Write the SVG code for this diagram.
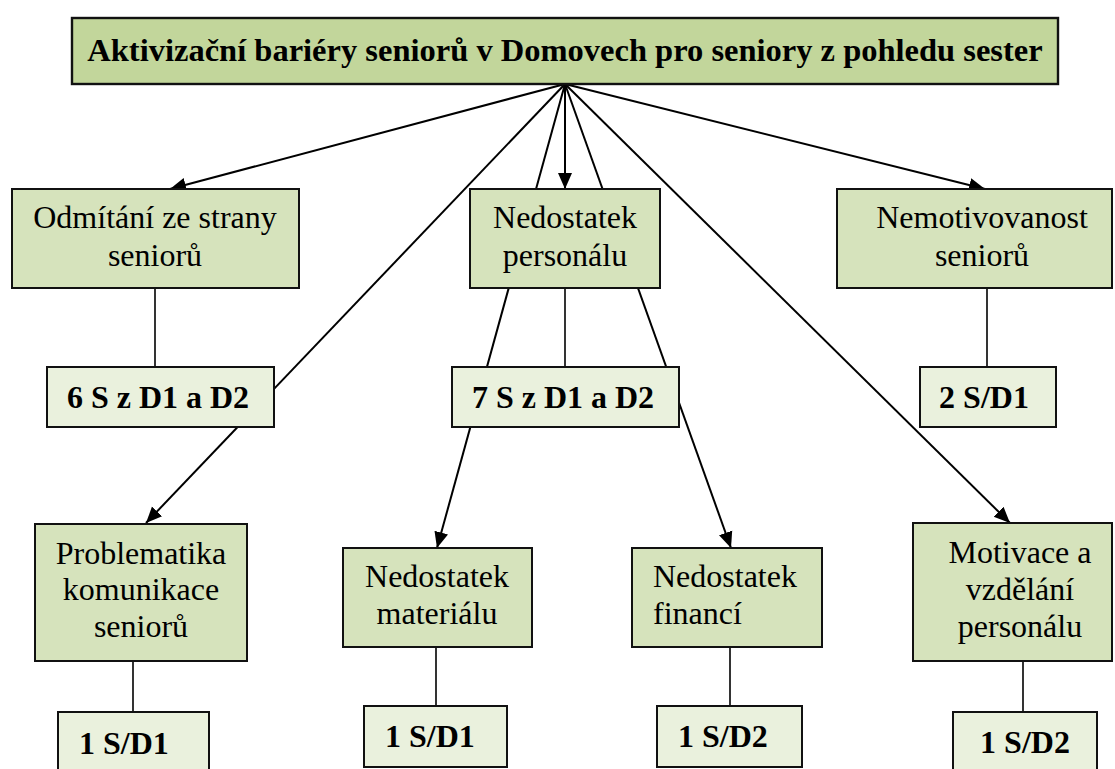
<svg xmlns="http://www.w3.org/2000/svg" width="1115" height="769" viewBox="0 0 1115 769">
  <defs>
    <marker id="arrow" markerUnits="userSpaceOnUse" markerWidth="17" markerHeight="17" viewBox="0 0 17 17" refX="16" refY="8.5" orient="auto">
      <path d="M0,1.5 L16,8.5 L0,15.5 Z" fill="#000"/>
    </marker>
    <style>
      .title { fill: #c2d69b; stroke: #111; stroke-width: 2.4; }
      .cat { fill: #d6e3bc; stroke: #111; stroke-width: 2; }
      .count { fill: #eaf1dd; stroke: #111; stroke-width: 2; }
      .edge { stroke: #000; stroke-width: 2; fill: none; }
      .stem { stroke: #000; stroke-width: 1.6; fill: none; }
      text { font-family: "Liberation Serif", "Times New Roman", serif; fill: #000; }
      .t-title { font-size: 32.5px; font-weight: bold; text-anchor: middle; }
      .t-cat { font-size: 32px; text-anchor: middle; }
      .t-left { font-size: 32px; }
      .t-count { font-size: 32px; font-weight: bold; }
      .mid { text-anchor: middle; }
    </style>
  </defs>
  <rect width="1115" height="769" fill="#fff"/>

  <!-- connectors: drawn first so the boxes sit on top of them -->
  <g id="connectors">
    <line class="edge" x1="565" y1="84" x2="170" y2="189" marker-end="url(#arrow)"/>
    <line class="edge" x1="565" y1="84" x2="146" y2="523" marker-end="url(#arrow)"/>
    <line class="edge" x1="565" y1="84" x2="437" y2="548" marker-end="url(#arrow)"/>
    <line class="edge" x1="565" y1="84" x2="565" y2="189" marker-end="url(#arrow)"/>
    <line class="edge" x1="565" y1="84" x2="731" y2="548" marker-end="url(#arrow)"/>
    <line class="edge" x1="565" y1="84" x2="1010" y2="523" marker-end="url(#arrow)"/>
    <line class="edge" x1="565" y1="84" x2="985" y2="189" marker-end="url(#arrow)"/>
    <line class="stem" x1="155" y1="288" x2="155" y2="367"/>
    <line class="stem" x1="565" y1="288" x2="565" y2="367"/>
    <line class="stem" x1="987" y1="288" x2="987" y2="367"/>
    <line class="stem" x1="133" y1="661" x2="133" y2="712"/>
    <line class="stem" x1="436" y1="647" x2="436" y2="706"/>
    <line class="stem" x1="730" y1="647" x2="730" y2="706"/>
    <line class="stem" x1="1023" y1="661" x2="1023" y2="712"/>
  </g>

  <g id="root">
    <rect class="title" x="72" y="18" width="986" height="66"/>
    <text class="t-title" x="565" y="61">Aktivizační bariéry seniorů v Domovech pro seniory z pohledu sester</text>
  </g>

  <g id="odmitani">
    <rect class="cat" x="12" y="189" width="287" height="99"/>
    <text class="t-cat" x="155" y="228">Odmítání ze strany</text>
    <text class="t-cat" x="155" y="266">seniorů</text>
  </g>

  <g id="nedostatek-personalu">
    <rect class="cat" x="470" y="189" width="190" height="99"/>
    <text class="t-cat" x="565" y="228">Nedostatek</text>
    <text class="t-cat" x="565" y="266">personálu</text>
  </g>

  <g id="nemotivovanost">
    <rect class="cat" x="837" y="189" width="275" height="99"/>
    <text class="t-cat" x="982" y="228">Nemotivovanost</text>
    <text class="t-cat" x="982" y="266">seniorů</text>
  </g>

  <g id="count-odmitani">
    <rect class="count" x="47" y="367" width="227" height="60"/>
    <text class="t-count mid" x="158" y="408">6 S z D1 a D2</text>
  </g>

  <g id="count-personal">
    <rect class="count" x="452" y="367" width="227" height="60"/>
    <text class="t-count mid" x="563" y="408">7 S z D1 a D2</text>
  </g>

  <g id="count-nemotivovanost">
    <rect class="count" x="920" y="367" width="136" height="60"/>
    <text class="t-count mid" x="984" y="408">2 S/D1</text>
  </g>

  <g id="problematika">
    <rect class="cat" x="35" y="524" width="212" height="137"/>
    <text class="t-cat" x="141" y="564">Problematika</text>
    <text class="t-cat" x="141" y="600">komunikace</text>
    <text class="t-cat" x="141" y="637">seniorů</text>
  </g>

  <g id="material">
    <rect class="cat" x="343" y="548" width="189" height="99"/>
    <text class="t-cat" x="437" y="587">Nedostatek</text>
    <text class="t-cat" x="437" y="624">materiálu</text>
  </g>

  <g id="finance">
    <rect class="cat" x="632" y="548" width="190" height="99"/>
    <text class="t-left" x="653" y="587">Nedostatek</text>
    <text class="t-left" x="653" y="624">financí</text>
  </g>

  <g id="motivace">
    <rect class="cat" x="913" y="523" width="199" height="138"/>
    <text class="t-cat" x="1020" y="563">Motivace a</text>
    <text class="t-cat" x="1020" y="600">vzdělání</text>
    <text class="t-cat" x="1020" y="637">personálu</text>
  </g>

  <g id="count-problematika">
    <rect class="count" x="58" y="712" width="151" height="70"/>
    <text class="t-count" x="79" y="754">1 S/D1</text>
  </g>

  <g id="count-material">
    <rect class="count" x="364" y="706" width="143" height="61"/>
    <text class="t-count" x="385" y="747">1 S/D1</text>
  </g>

  <g id="count-finance">
    <rect class="count" x="657" y="706" width="145" height="61"/>
    <text class="t-count" x="678" y="747">1 S/D2</text>
  </g>

  <g id="count-motivace">
    <rect class="count" x="953" y="712" width="144" height="70"/>
    <text class="t-count mid" x="1025" y="753">1 S/D2</text>
  </g>
</svg>
